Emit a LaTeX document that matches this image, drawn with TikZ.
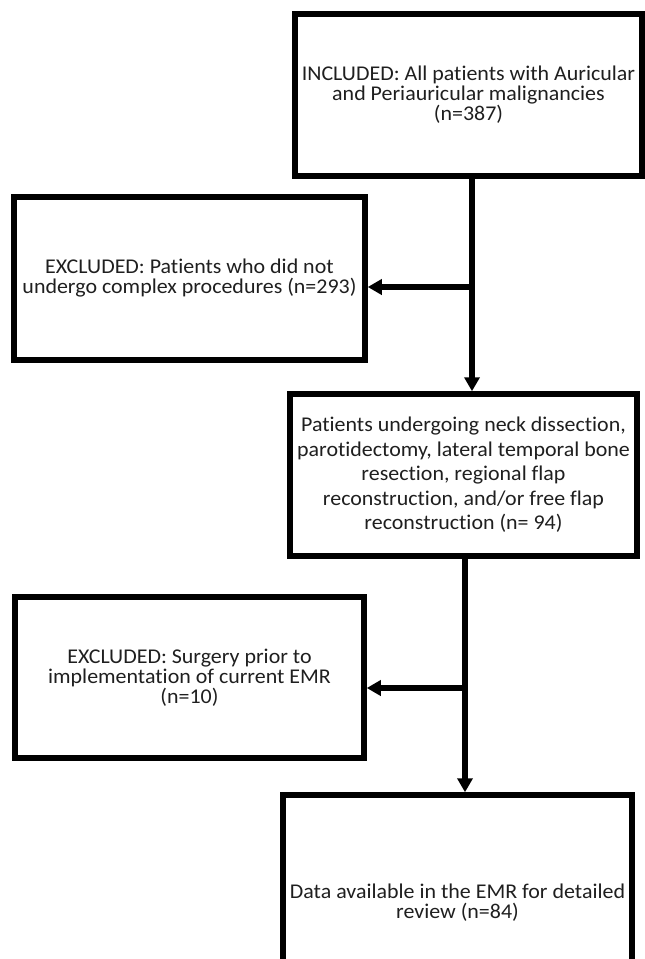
\documentclass[tikz,border=0pt]{standalone}
\usepackage{fontspec}
\setmainfont{Carlito}[FakeStretch=1.045,Ligatures=NoCommon]
\usetikzlibrary{arrows.meta}
\begin{document}
\begin{tikzpicture}[x=1pt,y=-1pt,
  flowbox/.style={draw, line width=5.5pt, align=center, inner sep=0pt,
    font=\fontsize{21}{20}\selectfont, text=black!88},
  flowline/.style={line width=5.5pt, -{Triangle[length=14pt,width=15pt]}}]
\useasboundingbox (0,0) rectangle (645,959);
\node[flowbox, minimum width=347, minimum height=162] (incl) at (468.5,95)
  {INCLUDED: All patients with Auricular\\ and Periauricular malignancies\\ (n=387)};
\node[flowbox, minimum width=351, minimum height=163] (excl1) at (189.5,278.5)
  {EXCLUDED: Patients who did not\\ undergo complex procedures (n=293)};
\node[flowbox, minimum width=347, minimum height=162, font=\fontsize{21}{24.5}\selectfont] (proc) at (463.5,475)
  {Patients undergoing neck dissection,\\ parotidectomy, lateral temporal bone\\ resection, regional flap\\ reconstruction, and/or free flap\\ reconstruction (n= 94)};
\node[flowbox, minimum width=349, minimum height=161] (excl2) at (189.5,677.5)
  {EXCLUDED: Surgery prior to\\ implementation of current EMR\\ (n=10)};
\node[flowbox, minimum width=349, minimum height=216] (data) at (457.5,903)
  {Data available in the EMR for detailed\\ review (n=84)};
% junctions
\coordinate (j1) at (472,287);
\coordinate (j2) at (465,688);
\draw[flowline] (incl.south -| j1) -- (proc.north -| j1);
\draw[flowline] (j1) -- (excl1.east |- j1);
\draw[flowline] (proc.south -| j2) -- (data.north -| j2);
\draw[flowline] (j2) -- (excl2.east |- j2);
\end{tikzpicture}
\end{document}
